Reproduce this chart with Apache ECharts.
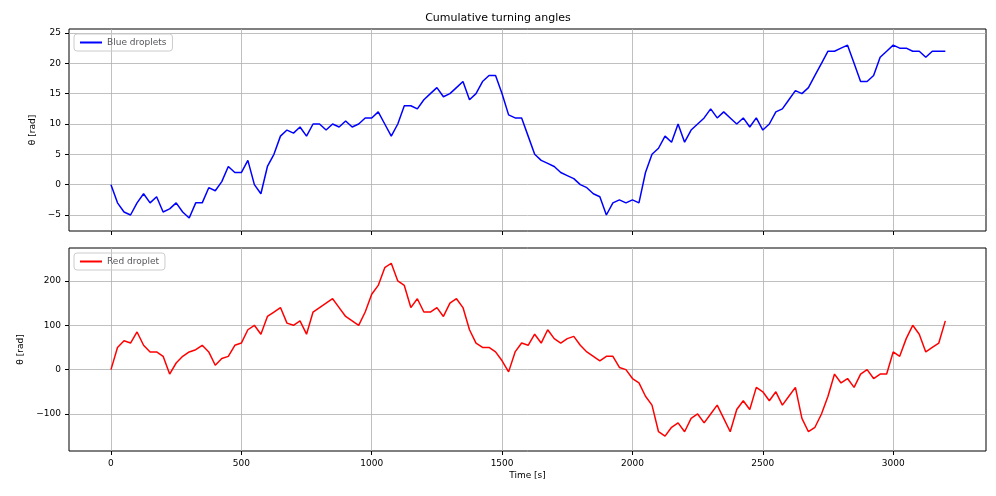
<!DOCTYPE html><html><head><meta charset="utf-8"><script src="https://cdn.jsdelivr.net/npm/echarts@6/dist/echarts.min.js"></script></head><body style="margin:0"><div id="c" style="width:996px;height:496px"></div><script>
const times=[];for(let t=0;t<=3200;t+=25)times.push(t);
const blue=[0,-3,-4.5,-5,-3,-1.5,-3,-2,-4.5,-4,-3,-4.5,-5.5,-3,-3,-0.5,-1,0.5,3,2,2,4,0,-1.5,3,5,8,9,8.5,9.5,8,10,10,9,10,9.5,10.5,9.5,10,11,11,12,10,8,10,13,13,12.5,14,15,16,14.5,15,16,17,14,15,17,18,18,15,11.5,11,11,8,5,4,3.5,3,2,1.5,1,0,-0.5,-1.5,-2,-5,-3,-2.5,-3,-2.5,-3,2,5,6,8,7,10,7,9,10,11,12.5,11,12,11,10,11,9.5,11,9,10,12,12.5,14,15.5,15,16,18,20,22,22,22.5,23,20,17,17,18,21,22,23,22.5,22.5,22,22,21,22,22,22];
const red=[0,50,65,60,85,55,40,40,30,-10,15,30,40,45,55,40,10,25,30,55,60,90,100,80,120,130,140,105,100,110,80,130,140,150,160,140,120,110,100,130,170,190,230,240,200,190,140,160,130,130,140,120,150,160,140,90,60,50,50,40,20,-5,40,60,55,80,60,90,70,60,70,75,55,40,30,20,30,30,5,0,-20,-30,-60,-80,-140,-150,-130,-120,-140,-110,-100,-120,-100,-80,-110,-140,-90,-70,-90,-40,-50,-70,-50,-80,-60,-40,-110,-140,-130,-100,-60,-10,-30,-20,-40,-10,0,-20,-10,-10,40,30,70,100,80,40,50,60,110];
const xTicks=[0,500,1000,1500,2000,2500,3000];
const F='DejaVu Sans';
const fmt=v=>(v<0?'\u2212':'')+Math.abs(v);
const ax=(show)=>({type:'value',min:-161,max:3356,interval:500,axisLine:{show:false,onZero:false},axisTick:{show:true,inside:false,length:4,lineStyle:{color:'#000'},customValues:xTicks},axisLabel:{show:show,color:'#000',fontFamily:F,fontSize:9,formatter:fmt,customValues:xTicks},splitLine:{show:true,lineStyle:{color:'#b0b0b0',width:0.8}},name:show?'Time [s]':'',nameLocation:'middle',nameGap:20,nameTextStyle:{color:'#000',fontFamily:F,fontSize:9}});
const ay=(min,max,iv,ticks)=>({type:'value',min:min,max:max,interval:iv,axisLine:{show:false,onZero:false},axisTick:{show:true,length:4,lineStyle:{color:'#000'},customValues:ticks},axisLabel:{color:'#000',fontFamily:F,fontSize:9,formatter:fmt,customValues:ticks},splitLine:{show:true,lineStyle:{color:'#b0b0b0',width:0.8}},name:'θ [rad]',nameLocation:'middle',nameGap:ticks[0]<-50?42:30,nameTextStyle:{color:'#000',fontFamily:F,fontSize:9}});
const ch=echarts.init(document.getElementById('c'));
ch.setOption({animation:false,
title:{text:'Cumulative turning angles',left:'center',top:8,textStyle:{fontFamily:F,fontSize:11,fontWeight:'normal',color:'#000'}},
grid:[{left:69,right:10,top:29,height:202,show:true,borderColor:'#000',borderWidth:1},{left:69,right:10,top:248,height:203,show:true,borderColor:'#000',borderWidth:1}],
xAxis:[Object.assign(ax(false),{gridIndex:0}),Object.assign(ax(true),{gridIndex:1})],
yAxis:[Object.assign(ay(-7.64,25.66,5,[-5,0,5,10,15,20,25]),{gridIndex:0}),Object.assign(ay(-183.5,274.4,100,[-100,0,100,200]),{gridIndex:1})],
legend:[{data:['Blue droplets'],left:74,top:34,orient:'vertical',itemWidth:22,itemHeight:2,itemGap:4,borderColor:'#ccc',borderWidth:1,borderRadius:3,padding:[4,6],textStyle:{fontFamily:F,fontSize:9},icon:'rect'},
{data:['Red droplet'],left:74,top:253,itemWidth:22,itemHeight:2,borderColor:'#ccc',borderWidth:1,borderRadius:3,padding:[4,6],textStyle:{fontFamily:F,fontSize:9},icon:'rect'}],
series:[{name:'Blue droplets',type:'line',xAxisIndex:0,yAxisIndex:0,data:times.map((t,i)=>[t,blue[i]]),showSymbol:false,lineStyle:{color:'#0000ff',width:1.5},itemStyle:{color:'#0000ff'}},
{name:'Red droplet',type:'line',xAxisIndex:1,yAxisIndex:1,data:times.map((t,i)=>[t,red[i]]),showSymbol:false,lineStyle:{color:'#ff0000',width:1.5},itemStyle:{color:'#ff0000'}}]});
</script></body></html>
